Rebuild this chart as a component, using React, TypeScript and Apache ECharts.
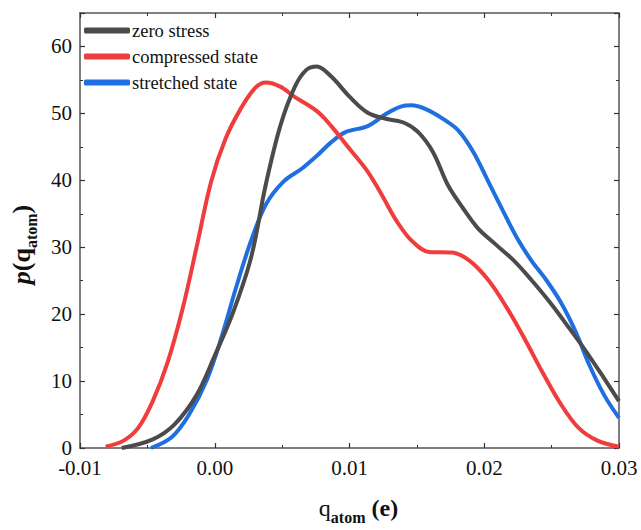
import React, { useEffect, useRef } from "react";
import * as echarts from "echarts";

const seriesNames = ["zero stress", "compressed state", "stretched state"];
const seriesColors = ["#4b4b4b", "#f03c3c", "#1f6fe0"];

const zeroX = [-0.0069, -0.0046, -0.003, -0.00135, 0.0, 0.00135, 0.0027, 0.00378, 0.00486, 0.00595, 0.0068, 0.00757, 0.00865, 0.01, 0.01135, 0.0127, 0.01405, 0.0151, 0.0162, 0.0173, 0.0184, 0.0195, 0.0208, 0.0222, 0.0235, 0.0249, 0.0262, 0.0276, 0.0289, 0.03];
const zeroY = [0, 1.3, 3.5, 7.9, 13.8, 20.2, 28.5, 39.3, 48.1, 54, 56.5, 57, 55.5, 52.5, 50.1, 49.2, 48.6, 47.2, 44.2, 39.3, 35.9, 32.9, 30.5, 28, 25.1, 21.7, 18.2, 14.3, 10.4, 7.0];

const compX = [-0.0081, -0.00676, -0.00568, -0.0046, -0.0035, -0.0024, -0.00135, -0.00027, 0.0008, 0.0019, 0.003, 0.0038, 0.00486, 0.0059, 0.0076, 0.00865, 0.01, 0.01135, 0.0124, 0.0135, 0.0146, 0.0159, 0.0176, 0.0189, 0.0203, 0.0216, 0.023, 0.0243, 0.0257, 0.027, 0.0284, 0.03];
const compY = [0.2, 1.1, 3.0, 7.0, 12.8, 20.7, 30, 39.8, 46.2, 50.6, 53.8, 54.6, 54, 52.5, 50.3, 48.1, 44.7, 41.3, 37.8, 33.9, 31, 29.3, 29.2, 28, 25.1, 21.2, 16.3, 11.4, 6.5, 3.0, 1.1, 0.2];

const strX = [-0.00473, -0.0032, -0.0019, -0.00054, 0.00054, 0.0016, 0.0027, 0.0038, 0.0051, 0.0065, 0.0076, 0.00865, 0.0097, 0.01135, 0.0127, 0.0138, 0.0146, 0.0157, 0.017, 0.0181, 0.0192, 0.0203, 0.0214, 0.0224, 0.0235, 0.0246, 0.0257, 0.0268, 0.0278, 0.0289, 0.03];
const strY = [0, 1.6, 5, 10.4, 16.8, 24.1, 31, 36.4, 39.8, 41.8, 43.7, 45.7, 47.2, 48.1, 49.9, 51, 51.2, 50.6, 49.1, 47.4, 44.2, 39.8, 35.4, 31.5, 28, 25.1, 21.7, 17.3, 12.4, 7.9, 4.5];

const xTicks = ["-0.01", "0.00", "0.01", "0.02", "0.03"];
const yTicks = ["0", "10", "20", "30", "40", "50", "60"];

const FONT = "'Liberation Serif', 'Times New Roman', 'DejaVu Serif', serif";

function zip(xs: number[], ys: number[]) {
  return xs.map((x, i) => [x, ys[i]]);
}

export default function App() {
  const ref = useRef<HTMLDivElement>(null);
  useEffect(() => {
    if (!ref.current) return;
    const chart = echarts.init(ref.current, null, { renderer: "svg" });
    const axisLine = { show: true, onZero: false, lineStyle: { color: "#555", width: 1.5 } };
    const tick = { show: true, inside: true, length: 5, lineStyle: { color: "#333", width: 1.2 } };
    const minor = { show: true, splitNumber: 2, length: 3, lineStyle: { color: "#333", width: 1 } };
    const datas = [zip(zeroX, zeroY), zip(compX, compY), zip(strX, strY)];
    const option: any = {
      animation: false,
      backgroundColor: "#fff",
      textStyle: { fontFamily: FONT, fontWeight: "normal", fontStyle: "normal" },
      grid: { left: 71, right: 22, top: 13, bottom: 76 },
      legend: {
        show: true,
        left: 79,
        top: 16,
        orient: "vertical",
        itemWidth: 46,
        itemHeight: 6,
        itemGap: 7,
        icon: "roundRect",
        textStyle: {
          fontFamily: FONT,
          fontWeight: "normal",
          fontStyle: "normal",
          fontSize: 18.5,
          color: "#111",
          padding: [0, 0, 0, -3],
        },
        data: seriesNames,
      },
      xAxis: [
        {
          type: "value",
          min: -0.01,
          max: 0.03,
          interval: 0.01,
          axisLine,
          axisTick: tick,
          minorTick: minor,
          splitLine: { show: false },
          axisLabel: {
            fontFamily: FONT,
            fontWeight: "normal",
            fontStyle: "normal",
            fontSize: 21,
            lineHeight: 18,
            color: "#111",
            margin: 11,
            formatter: (v: number) => {
              const i = Math.round((v + 0.01) / 0.01);
              return xTicks[i] ?? "";
            },
          },
          name: "{q|q}{sub|atom}{b| (e)}",
          nameLocation: "middle",
          nameGap: 48,
          nameTextStyle: {
            padding: [0, 0, 0, 18],
            rich: {
              q: { fontFamily: FONT, fontWeight: "normal", fontSize: 24, color: "#111", verticalAlign: "top", lineHeight: 26 },
              sub: { fontFamily: FONT, fontSize: 16, fontWeight: "bold", color: "#111", verticalAlign: "top", lineHeight: 16, padding: [13, 0, 0, 0] },
              b: { fontFamily: FONT, fontSize: 24, fontWeight: "bold", color: "#111", verticalAlign: "top", lineHeight: 26 },
            },
          },
        },
        {
          type: "value",
          position: "top",
          min: -0.01,
          max: 0.03,
          interval: 0.01,
          axisLine,
          axisTick: tick,
          minorTick: minor,
          splitLine: { show: false },
          axisLabel: { show: false },
        },
      ],
      yAxis: [
        {
          type: "value",
          min: 0,
          max: 65,
          interval: 10,
          axisLine,
          axisTick: tick,
          minorTick: minor,
          splitLine: { show: false },
          axisLabel: {
            fontFamily: FONT,
            fontWeight: "normal",
            fontStyle: "normal",
            fontSize: 21,
            lineHeight: 16,
            color: "#111",
            margin: 8,
            formatter: (v: number) => {
              const i = Math.round(v / 10);
              return v % 10 === 0 ? yTicks[i] ?? "" : "";
            },
          },
          name: "{p|p}{b|(q}{sub|atom}{b|)}",
          nameLocation: "middle",
          nameGap: 44,
          nameRotate: 90,
          nameTextStyle: {
            padding: [0, 28, 0, 0],
            rich: {
              p: { fontFamily: FONT, fontSize: 26, fontWeight: "bold", fontStyle: "italic", color: "#111", verticalAlign: "top", lineHeight: 28 },
              b: { fontFamily: FONT, fontSize: 26, fontWeight: "bold", color: "#111", verticalAlign: "top", lineHeight: 28 },
              sub: { fontFamily: FONT, fontSize: 16, fontWeight: "bold", color: "#111", verticalAlign: "top", lineHeight: 16, padding: [15, 0, 0, 0] },
            },
          },
        },
        {
          type: "value",
          position: "right",
          min: 0,
          max: 65,
          interval: 10,
          axisLine,
          axisTick: tick,
          minorTick: minor,
          splitLine: { show: false },
          axisLabel: { show: false },
        },
      ],
      series: datas.map((d, i) => ({
        name: seriesNames[i],
        type: "line",
        data: d,
        smooth: 0.35,
        showSymbol: false,
        symbol: "none",
        clip: true,
        lineStyle: { width: 4, color: seriesColors[i] },
        itemStyle: { color: seriesColors[i] },
        z: 3 - i,
      })),
    };
    chart.setOption(option);
    return () => chart.dispose();
  }, []);
  return <div ref={ref} style={{ width: 641, height: 530, position: "absolute", left: 0, top: 0 }} />;
}
